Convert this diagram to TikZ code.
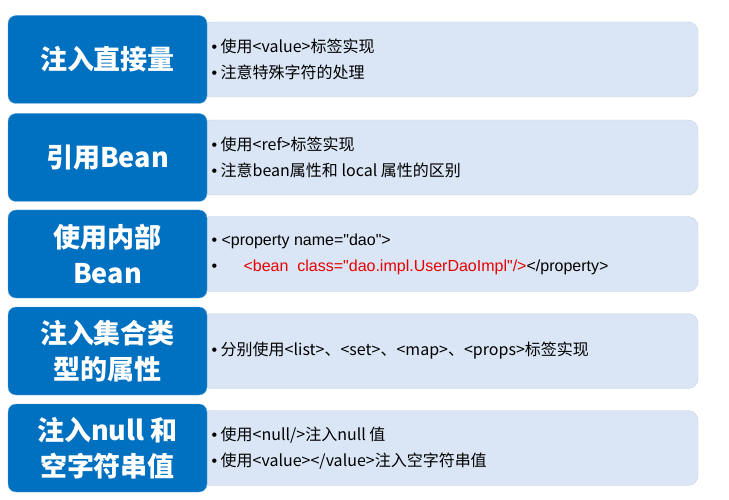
\documentclass[tikz,border=0pt]{standalone}
\usepackage{fontspec}
\setmainfont{Noto Sans CJK SC}
\newfontfamily\latinfont{Liberation Sans}
\usepackage{xcolor}
\definecolor{titleblue}{RGB}{0,112,192}
\definecolor{paleblue}{RGB}{218,230,245}
\definecolor{codered}{RGB}{230,0,0}
\begin{document}
\begin{tikzpicture}[x=1pt,y=-1pt,
    topic/.style={fill=titleblue, draw=titleblue!60, rounded corners=8pt, minimum width=199pt, minimum height=88pt},
    label/.style={text=white, font=\fontsize{27}{36}\selectfont\bfseries, align=center},
    detail/.style={fill=paleblue, draw=paleblue!80!gray, rounded corners=10pt, minimum width=498pt, minimum height=75pt},
    items/.style={anchor=west, font=\fontsize{16}{26}\selectfont, align=left}]
    \useasboundingbox (0,0) rectangle (729,500);
    % Rows
    \foreach \y/\name in {59.5/r1, 157.5/r2, 254/r3, 351/r4, 448/r5} {
        \node[detail] (\name d) at (449,\y) {};
        \node[topic] (\name t) at (107.5,\y) {};
    }
    % Titles
    \node[label] at (r1t) {注入直接量};
    \node[label] at (r2t) {引用Bean};
    \node[label] at (r3t) {使用内部\\Bean};
    \node[label] at (r4t) {注入集合类\\型的属性};
    \node[label] at (r5t) {注入null 和\\空字符串值};
    % Details
    \node[items] (i1) at (208,59.5) {{\latinfont•} 使用<value>标签实现\\{\latinfont•} 注意特殊字符的处理};
    \node[items] (i2) at (208,157.5) {{\latinfont•} 使用<ref>标签实现\\{\latinfont•} 注意bean属性和 local 属性的区别};
    \node[items, font=\latinfont\fontsize{16}{26}\selectfont] (i3) at (208,254) {• <property name="dao">\\• \hspace{22pt}\textcolor{codered}{<bean\ \ class="dao.impl.UserDaoImpl"/>}</property>};
    \node[items] (i4) at (208,351) {{\latinfont•} 分别使用<list>、<set>、<map>、<props>标签实现};
    \node[items] (i5) at (208,448) {{\latinfont•} 使用<null/>注入null 值\\{\latinfont•} 使用<value></value>注入空字符串值};
\end{tikzpicture}
\end{document}
